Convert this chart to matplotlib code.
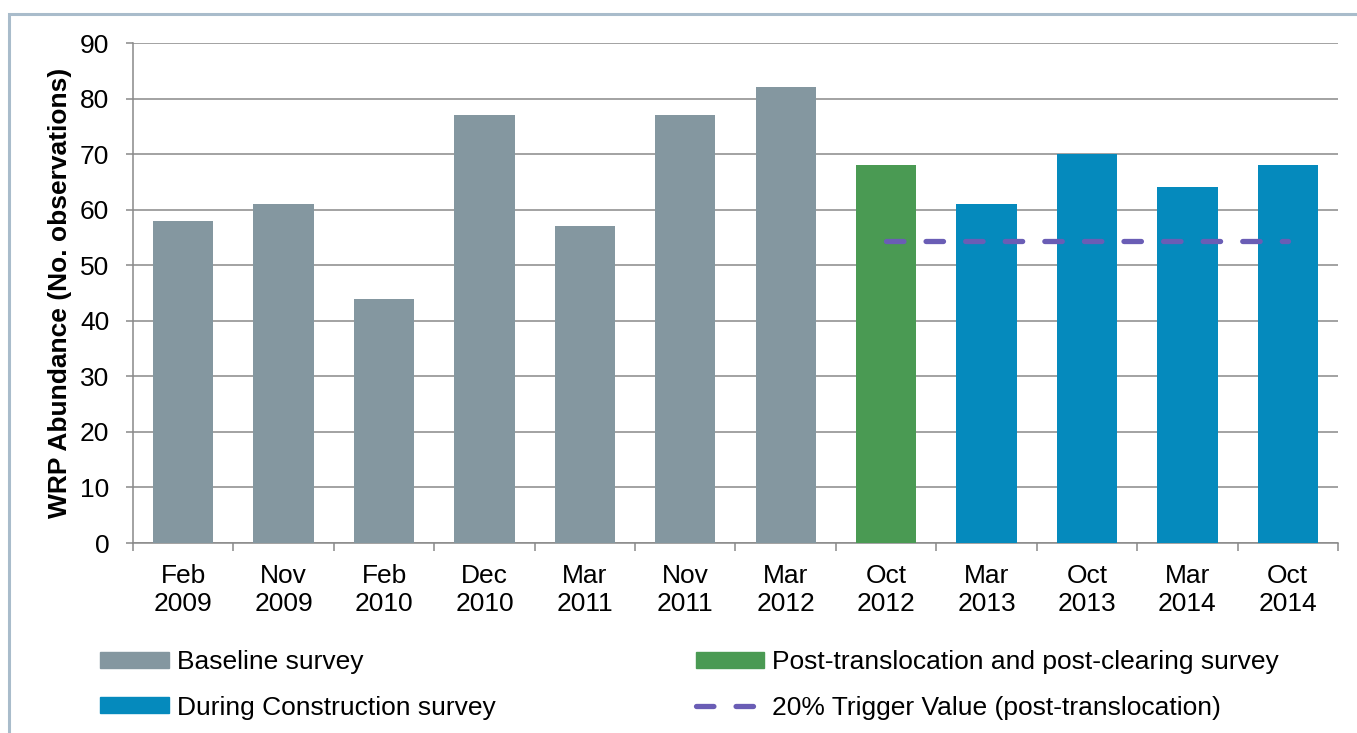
import numpy as np
import matplotlib
matplotlib.use('Agg')
import matplotlib.pyplot as plt
from matplotlib.patches import Patch, Rectangle
from matplotlib.lines import Line2D

plt.rcParams['font.family'] = ['Liberation Sans', 'DejaVu Sans']

# 数据
surveys = ['Feb\n2009', 'Nov\n2009', 'Feb\n2010', 'Dec\n2010', 'Mar\n2011', 'Nov\n2011',
           'Mar\n2012', 'Oct\n2012', 'Mar\n2013', 'Oct\n2013', 'Mar\n2014', 'Oct\n2014']
abundance = [58, 61, 44, 77, 57, 77, 82, 68, 61, 70, 64, 68]
phase = ['base'] * 7 + ['post'] + ['during'] * 4
trigger_value = 54.4
trigger_start, trigger_end = 7, 11

colors = {'base': '#8497A0', 'post': '#4A9A53', 'during': '#058ABD'}
grid_c = '#898989'
fs = 19

fig = plt.figure(figsize=(13.57, 7.33), dpi=100)
ax = fig.add_axes([0.098, 0.2592, 0.888, 0.6821])

x = np.arange(len(surveys))
ax.bar(x, abundance, width=0.6, color=[colors[p] for p in phase], zorder=3)
ax.plot([x[trigger_start], x[trigger_end]], [trigger_value, trigger_value],
        color='#6A5DB5', lw=3.8, dashes=(3.3, 4.2), dash_capstyle='round', zorder=4)

ax.set_xlim(-0.5, len(surveys) - 0.5)
ax.set_ylim(0, 90)
ax.set_yticks(np.arange(0, 91, 10))
ax.yaxis.grid(True, color=grid_c, lw=1.1, zorder=0)
ax.set_axisbelow(True)

ax.set_xticks(x)
ax.set_xticklabels(surveys, fontsize=fs, linespacing=1.22)
ax.set_xticks(np.arange(-0.5, len(surveys)), minor=True)
ax.tick_params(axis='x', which='major', length=0, pad=15)
ax.tick_params(axis='x', which='minor', length=6, width=1.1, color=grid_c, direction='out')
ax.tick_params(axis='y', length=5, width=1.1, color=grid_c, labelsize=fs, pad=12)

for s in ['top', 'right']:
    ax.spines[s].set_visible(False)
for s in ['left', 'bottom']:
    ax.spines[s].set_color(grid_c)
    ax.spines[s].set_linewidth(1.1)

ax.set_ylabel('WRP Abundance (No. observations)', fontsize=fs, fontweight='bold', labelpad=6)

handles = [
    Patch(color=colors['base'], label='Baseline survey'),
    Patch(color=colors['during'], label='During Construction survey'),
    Patch(color=colors['post'], label='Post-translocation and post-clearing survey'),
    Line2D([], [], color='#6A5DB5', lw=3.8, dashes=(3.3, 4.2), dash_capstyle='round',
           label='20% Trigger Value (post-translocation)'),
]
fig.legend(handles=handles, ncol=2, frameon=False, fontsize=fs,
           loc='upper left', bbox_to_anchor=(100 / 1357, 1 - 650 / 733),
           borderpad=0, borderaxespad=0, handlelength=2.6, handleheight=0.55,
           handletextpad=0.3, labelspacing=0.82, columnspacing=7.6)

# 外框
fig.patches.append(Rectangle((9 / 1357, -0.05), 1.2, 1 - 14 / 733 + 0.05,
                             transform=fig.transFigure, fill=False,
                             edgecolor='#A9BCCB', lw=2.2))

fig.savefig('out.png', dpi=100)
